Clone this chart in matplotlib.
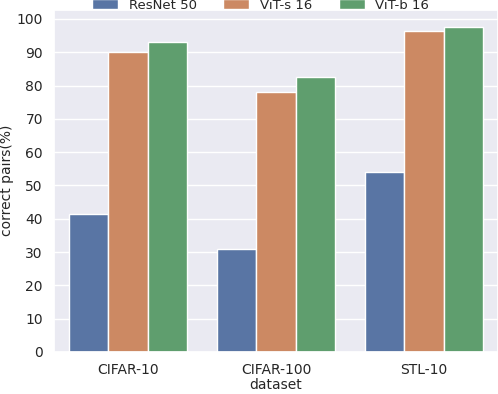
import pandas as pd
import seaborn as sns
import matplotlib.pyplot as plt

datasets = ['CIFAR-10', 'CIFAR-100', 'STL-10']
models = ['ResNet 50', 'ViT-s 16', 'ViT-b 16']
resnet50 = [41.4, 30.9, 54.0]
vit_s16 = [90.2, 78.0, 96.5]
vit_b16 = [93.2, 82.5, 97.5]

rows = []
for name, vals in zip(models, [resnet50, vit_s16, vit_b16]):
    for d, v in zip(datasets, vals):
        rows.append({'dataset': d, 'model': name, 'correct pairs(%)': v})
df = pd.DataFrame(rows)

sns.set_theme(style='darkgrid')
fig = plt.figure(figsize=(4.98, 3.94), dpi=100)
ax = fig.add_axes([0.1085, 0.1066, 0.8915, 0.869])

sns.barplot(data=df, x='dataset', y='correct pairs(%)', hue='model',
            ax=ax, edgecolor='white', linewidth=1)

ax.set_ylim(0, 102.8)
ax.set_yticks(range(0, 101, 10))
ax.tick_params(labelsize=10, pad=2)
ax.set_xlabel('dataset', fontsize=10, labelpad=1)
ax.set_ylabel('correct pairs(%)', fontsize=10, labelpad=2)

ax.legend(loc='center', bbox_to_anchor=(0.523, 0.987), bbox_transform=fig.transFigure,
          ncol=3, frameon=False, fontsize=9.5, title=None)

fig.savefig('out.png', dpi=100)
